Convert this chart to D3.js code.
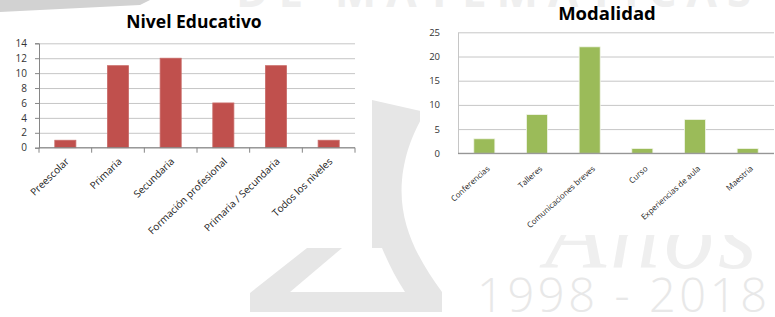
<!DOCTYPE html>
<html>
<head>
<meta charset="utf-8">
<script src="https://cdn.jsdelivr.net/npm/d3@7"></script>
<style>
  body { margin: 0; background: #fff; }
  svg { display: block; font-family: "Open Sans", sans-serif; }
</style>
</head>
<body>
<script>
// chart data
var nivelCats = ["Preescolar", "Primaria", "Secundaria", "Formación profesional", "Primaria / Secundaria", "Todos los niveles"];
var nivelVals = [1, 11, 12, 6, 11, 1];
var nivelTicks = [0, 2, 4, 6, 8, 10, 12, 14];

var modCats = ["Conferencias", "Talleres", "Comunicaciones breves", "Curso", "Experiencias de aula", "Maestria"];
var modVals = [3, 8, 22, 1, 7, 1];
var modTicks = [0, 5, 10, 15, 20, 25];

var width = 775, height = 317;

var svg = d3.select("body")
            .append("svg")
            .attr("width", width)
            .attr("height", height)

// background watermark (faint logo behind the two charts)
var wm = svg.append("g")

wm.append("path")
  .attr("d", "M0,0 L150,0 L140,5 L0,12 Z")
  .attr("fill", "#d2d2d2")

wm.append("text")
  .attr("x", 236).attr("y", 7)
  .attr("font-size", 44).attr("font-weight", "bold")
  .attr("letter-spacing", 10)
  .attr("fill", "#efefef")
  .text("DE MATEMÁTICAS")

// the triangle-ish logo
wm.append("path")
  .attr("d", "M250,312 L442,312 L442,292 C420,262 398,225 402,180 C405,150 415,130 425,112 L372,100 L372,248 L307,248 L250,293 Z")
  .attr("fill", "#e6e6e6")
wm.append("path")
  .attr("d", "M290,292 L342,248 L382,248 C388,262 395,277 405,292 Z")
  .attr("fill", "#fff")

wm.append("text")
  .attr("x", 545).attr("y", 268)
  .attr("font-family", "Liberation Serif, serif")
  .attr("font-style", "italic")
  .attr("font-size", 100)
  .attr("letter-spacing", 4)
  .attr("fill", "#efefef")
  .text("Años")

wm.append("text")
  .attr("x", 477).attr("y", 312)
  .attr("font-size", 47).attr("font-weight", 300)
  .attr("textLength", 290).attr("lengthAdjust", "spacing")
  .attr("fill", "#e8e8e8")
  .text("1998 - 2018")

function barChart(opts) {
  var g = svg.append("g")

  // white chart area
  g.append("rect")
    .attr("x", opts.box[0]).attr("y", opts.box[1])
    .attr("width", opts.box[2]).attr("height", opts.box[3])
    .attr("fill", "#fff")

  var x = d3.scaleBand()
            .domain(opts.cats)
            .range([opts.left, opts.right])
            .paddingInner(0.6)
            .paddingOuter(0.3)

  var y = d3.scaleLinear()
            .domain([0, d3.max(opts.ticks)])
            .range([opts.bottom, opts.top])

  // gridlines
  g.append("g")
    .attr("transform", "translate(" + opts.left + ",0)")
    .call(d3.axisLeft(y).tickValues(opts.ticks).tickSize(-(opts.right - opts.left)).tickFormat(""))
    .call(function (s) {
      s.select(".domain").remove();
      s.selectAll("line").attr("stroke", "#c6c6c6");
    })

  // y axis labels
  var yAxis = g.append("g")
    .attr("transform", "translate(" + opts.left + ",0)")
    .call(d3.axisLeft(y).tickValues(opts.ticks).tickSize(opts.yTick).tickPadding(opts.yPad))
  yAxis.select(".domain").attr("stroke", opts.yLine)
  yAxis.selectAll("line").attr("stroke", "#868686")
  yAxis.selectAll("text")
    .attr("font-family", "Open Sans, sans-serif")
    .attr("font-size", opts.yFont)
    .attr("fill", "#333")

  // bars
  g.selectAll("rect.bar")
    .data(opts.vals)
    .enter()
    .append("rect")
      .attr("class", "bar")
      .attr("x", function (d, i) { return x(opts.cats[i]) })
      .attr("y", function (d) { return y(d) })
      .attr("width", x.bandwidth())
      .attr("height", function (d) { return y(0) - y(d) })
      .attr("fill", opts.color)
      .attr("stroke", opts.barStroke)
      .attr("stroke-width", 0.8)

  // category boundary ticks + baseline
  var bounds = d3.range(opts.cats.length + 1).map(function (i) { return opts.left + x.step() * i })
  g.append("line")
    .attr("x1", opts.left).attr("x2", opts.right)
    .attr("y1", y(0)).attr("y2", y(0))
    .attr("stroke", "#868686")
  g.selectAll("line.ctick")
    .data(opts.catTick ? bounds : [])
    .enter()
    .append("line")
      .attr("class", "ctick")
      .attr("x1", function (d) { return d }).attr("x2", function (d) { return d })
      .attr("y1", y(0)).attr("y2", y(0) + 5)
      .attr("stroke", "#868686")

  // rotated category labels
  g.selectAll("text.cat")
    .data(opts.cats)
    .enter()
    .append("text")
      .attr("class", "cat")
      .attr("transform", function (d) {
        return "translate(" + (x(d) + x.bandwidth() / 2 + opts.labDx) + "," + (y(0) + opts.labDy) + ") rotate(" + opts.angle + ")"
      })
      .attr("text-anchor", "end")
      .attr("dy", "0.35em")
      .attr("font-size", opts.xFont)
      .attr("fill", "#222")
      .text(function (d) { return d })

  // title
  g.append("text")
    .attr("x", opts.titleX).attr("y", opts.titleY)
    .attr("text-anchor", "middle")
    .attr("font-size", opts.titleSize)
    .attr("font-weight", "bold")
    .attr("fill", "#000")
    .text(opts.title)
}

barChart({
  title: "Nivel Educativo", titleX: 194, titleY: 28, titleSize: 17.5,
  cats: nivelCats, vals: nivelVals, ticks: nivelTicks,
  box: [0, 12, 372, 236],
  left: 39, right: 355, top: 43.3, bottom: 147.7,
  color: "#C0504D", barStroke: "#c96a67",
  yTick: 4, yPad: 8, yFont: 10, yLine: "#868686",
  catTick: true, xFont: 10, labDx: 2, labDy: 12, angle: -44
})

barChart({
  title: "Modalidad", titleX: 607, titleY: 20, titleSize: 18.5,
  cats: modCats, vals: modVals, ticks: modTicks,
  box: [420, 8, 355, 227],
  left: 458, right: 774, top: 32.3, bottom: 153.3,
  color: "#9BBB59", barStroke: "#f2f6ea",
  yTick: 0, yPad: 18, yFont: 9.5, yLine: "#c6c6c6",
  catTick: false, xFont: 8, labDx: 4, labDy: 14, angle: -42
})
</script>
</body>
</html>
